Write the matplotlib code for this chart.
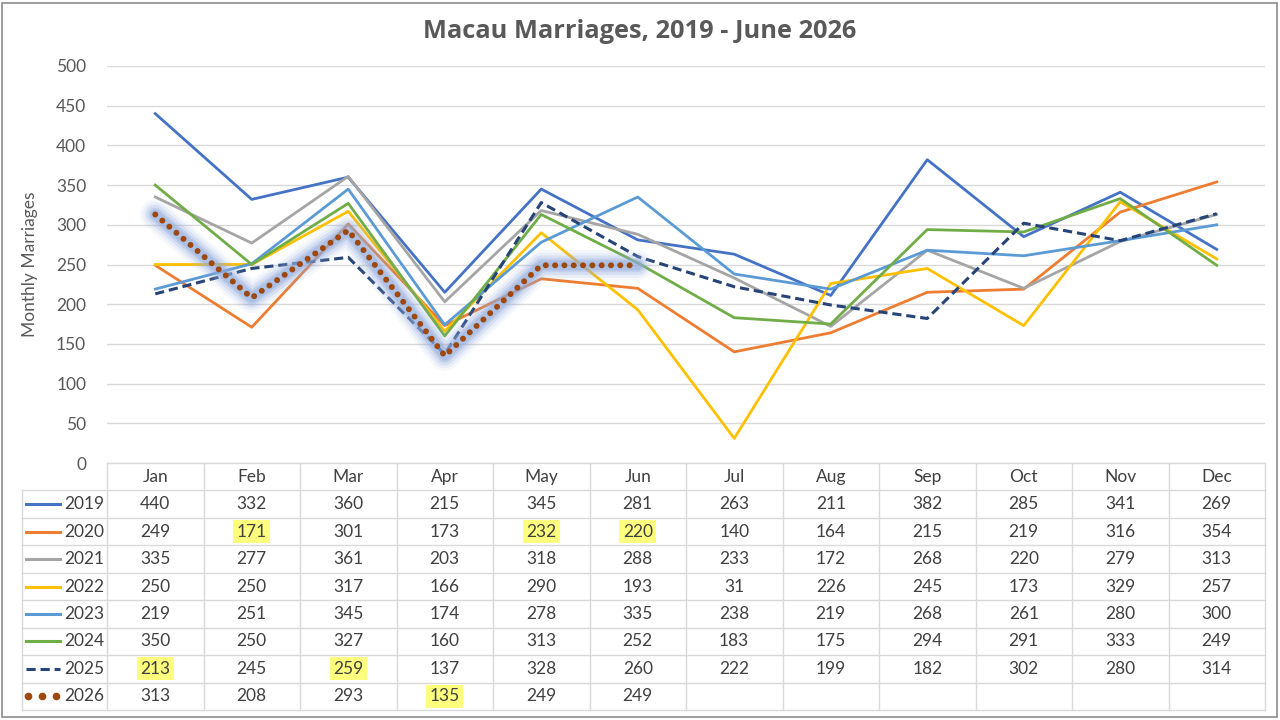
import matplotlib
matplotlib.use("Agg")
import matplotlib.pyplot as plt
from matplotlib.patches import Rectangle

plt.rcParams["font.family"] = ["Lato", "DejaVu Sans"]

months = ["Jan", "Feb", "Mar", "Apr", "May", "Jun", "Jul", "Aug", "Sep", "Oct", "Nov", "Dec"]
years = ["2019", "2020", "2021", "2022", "2023", "2024", "2025", "2026"]
v2019 = [440, 332, 360, 215, 345, 281, 263, 211, 382, 285, 341, 269]
v2020 = [249, 171, 301, 173, 232, 220, 140, 164, 215, 219, 316, 354]
v2021 = [335, 277, 361, 203, 318, 288, 233, 172, 268, 220, 279, 313]
v2022 = [250, 250, 317, 166, 290, 193, 31, 226, 245, 173, 329, 257]
v2023 = [219, 251, 345, 174, 278, 335, 238, 219, 268, 261, 280, 300]
v2024 = [350, 250, 327, 160, 313, 252, 183, 175, 294, 291, 333, 249]
v2025 = [213, 245, 259, 137, 328, 260, 222, 199, 182, 302, 280, 314]
v2026 = [313, 208, 293, 135, 249, 249]
series = [v2019, v2020, v2021, v2022, v2023, v2024, v2025, v2026]
# highlighted cells (year, month index)
highlights = [("2020", 1), ("2020", 4), ("2020", 5), ("2025", 0), ("2025", 2), ("2026", 3)]

colors = ["#4472C4", "#ED7D31", "#A5A5A5", "#FFC000", "#5B9BD5", "#70AD47", "#264478", "#9E480E"]
W, H = 1280, 720
fig = plt.figure(figsize=(12.8, 7.2), dpi=100)
fig.patches.append(Rectangle((2 / W, 3 / H), 1 - 5 / W, 1 - 6 / H, transform=fig.transFigure,
                             fill=False, edgecolor="#8c8c8c", lw=1.2))

L, R, T, B = 107, 1265, 66, 463
ax = fig.add_axes([L / W, 1 - B / H, (R - L) / W, (B - T) / H])
ax.set_xlim(-0.5, 11.5)
ax.set_ylim(0, 500)
ax.set_yticks(range(0, 501, 50))
ax.tick_params(axis="y", length=0, labelsize=12.5, labelcolor="#595959", pad=15)
ax.set_xticks([])
for s in ax.spines.values():
    s.set_visible(False)
ax.grid(axis="y", color="#D9D9D9", lw=1)
ax.set_axisbelow(True)
ax.set_ylabel("Monthly Marriages", fontsize=12.5, color="#595959", labelpad=13)

x = list(range(12))
for i, (yr, vals) in enumerate(zip(years, series)):
    xs = x[:len(vals)]
    if yr == "2025":
        ax.plot(xs, vals, color=colors[i], lw=2.2, ls=(0, (3, 1.6)), zorder=3)
    elif yr == "2026":
        for w, a in [(22, 0.08), (18, 0.12), (14, 0.2), (10, 0.3), (7, 0.4)]:
            ax.plot(xs, vals, color="#8FAADC", lw=w, alpha=a, solid_capstyle="round",
                    solid_joinstyle="round", zorder=4)
        ax.plot(xs, vals, color=colors[i], lw=4.3, ls=(0, (0.01, 1.55)),
                dash_capstyle="round", zorder=5)
    else:
        ax.plot(xs, vals, color=colors[i], lw=2, zorder=3)

fig.text(0.5, 1 - 31 / H, "Macau Marriages, 2019 - June 2026", ha="center", va="center",
         fontsize=18.3, fontweight="bold", color="#595959", family=["Open Sans", "DejaVu Sans"])

# data table
TB = 710
tax = fig.add_axes([L / W, 1 - TB / H, (R - L) / W, (TB - B) / H])
tax.set_xlim(-0.5, 11.5)
tax.set_ylim(9, 0)
tax.axis("off")
colw = (R - L) / 12
xleft = -0.5 - (L - 22) / colw
gc = "#D9D9D9"
for k in range(13):
    tax.plot([-0.5 + k, -0.5 + k], [0, 9], color=gc, lw=1, clip_on=False)
tax.plot([xleft, xleft], [1, 9], color=gc, lw=1, clip_on=False)
for r in range(1, 10):
    tax.plot([xleft, 11.5], [r, r], color=gc, lw=1, clip_on=False)
tax.plot([-0.5, 11.5], [0, 0], color=gc, lw=1, clip_on=False)

tc = "#404040"
fs = 12.5
for j, m in enumerate(months):
    tax.text(j, 0.5, m, ha="center", va="center", fontsize=fs, color=tc)

def px2x(p):
    return -0.5 + (p - L) / colw

for i, (yr, vals) in enumerate(zip(years, series)):
    row = i + 1.5
    if yr == "2026":
        tax.plot([px2x(28), px2x(42), px2x(56)], [row, row, row], ls="none", marker="o",
                 ms=4.5, color=colors[i], clip_on=False)
    elif yr == "2025":
        tax.plot([px2x(26), px2x(60)], [row, row], color=colors[i], lw=2.2,
                 ls=(0, (3, 1.6)), clip_on=False)
    else:
        tax.plot([px2x(26), px2x(60)], [row, row], color=colors[i], lw=2.2, clip_on=False)
    tax.text(px2x(104), row, yr, ha="right", va="center", fontsize=fs, color=tc, clip_on=False)
    for j, v in enumerate(vals):
        hl = (yr, j) in highlights
        bbox = dict(boxstyle="square,pad=0.2", facecolor="#FFFF70", edgecolor="none", alpha=0.9) if hl else None
        tax.text(j, row, str(v), ha="center", va="center", fontsize=fs, color=tc, bbox=bbox)

fig.savefig("out.png", dpi=100)
